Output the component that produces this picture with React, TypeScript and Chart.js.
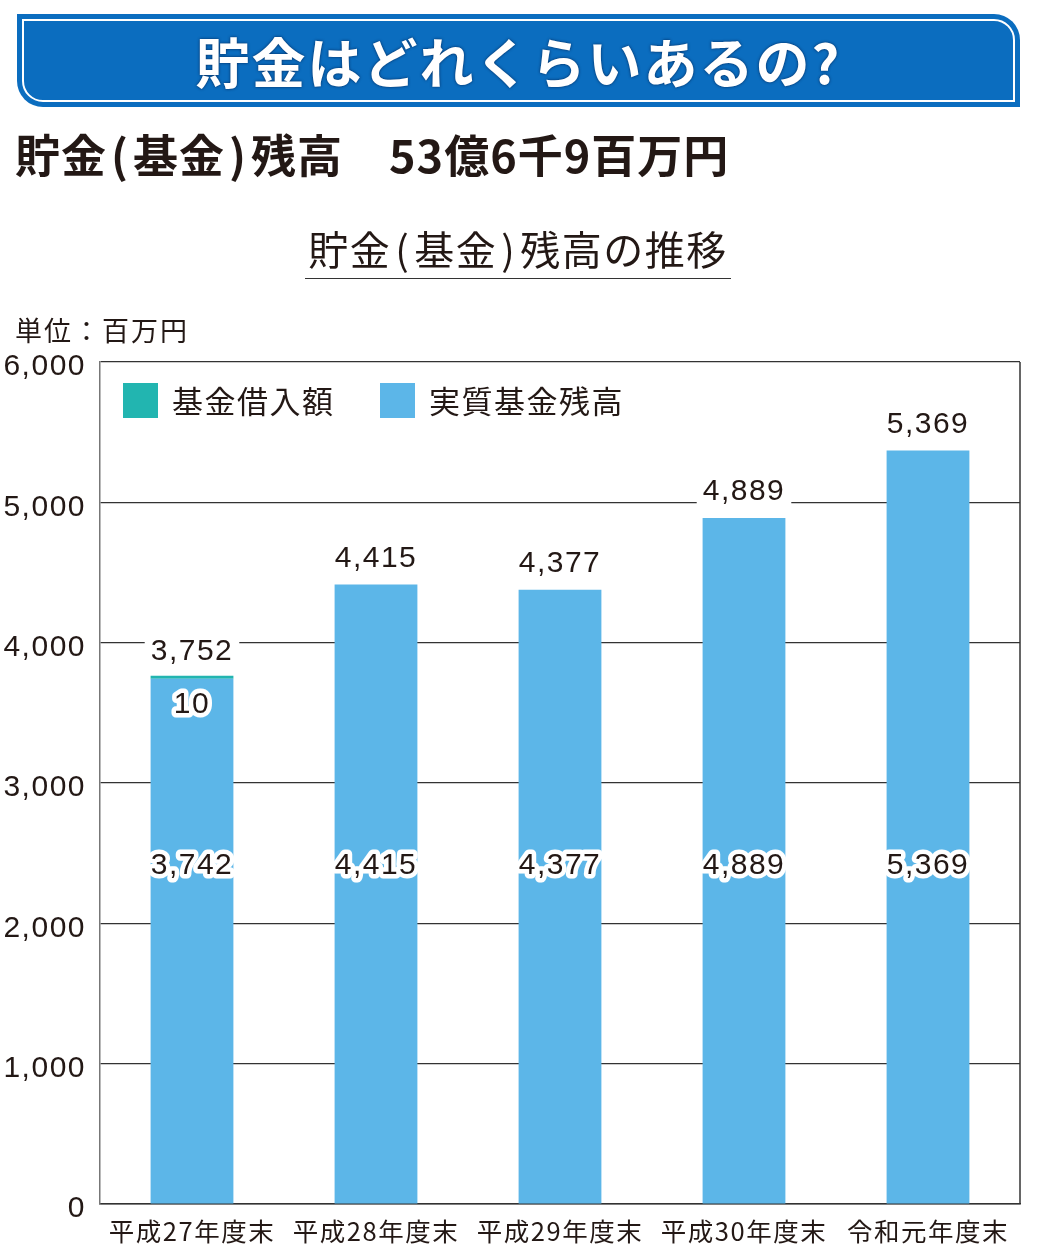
import React, { useEffect, useRef } from "react";
import { Chart, registerables } from "chart.js";

Chart.register(...registerables);

const categories = ["平成27年度末", "平成28年度末", "平成29年度末", "平成30年度末", "令和元年度末"];
const fundBalance = [3742, 4415, 4377, 4889, 5369];
const borrowing: (number | null)[] = [10, null, null, null, null];
const totals = [3752, 4415, 4377, 4889, 5369];
const seriesNames = ["実質基金残高", "基金借入額"];
const yMin = 0;
const yMax = 6000;
const yStep = 1000;

const TEXT = "#231815";
const BLUE = "#5cb6e8";
const TEAL = "#22b5b0";
const NUM_FONT = "'Liberation Sans', Arial, 'Noto Sans CJK JP', sans-serif";
const JP_FONT = "'Noto Sans CJK JP', 'Liberation Sans', sans-serif";

const fmt = (v: number) => v.toLocaleString("en-US");

const labelsPlugin = {
  id: "customLabels",
  beforeDraw(chart: any) {
    (chart.ctx as any).letterSpacing = "1.5px";
  },
  afterDatasetsDraw(chart: any) {
    const ctx = chart.ctx as CanvasRenderingContext2D;
    const area = chart.chartArea;
    const yScale = chart.scales.y;
    const baseMeta = chart.getDatasetMeta(0);
    const topMeta = chart.getDatasetMeta(1);
    ctx.save();
    (ctx as any).letterSpacing = "1.5px";
    ctx.textAlign = "center";
    ctx.textBaseline = "middle";
    ctx.font = `30px ${NUM_FONT}`;
    totals.forEach((t, i) => {
      const bar = baseMeta.data[i];
      const top = yScale.getPixelForValue(t);
      const txt = fmt(t);
      const w = ctx.measureText(txt).width;
      const cy = top - 26;
      ctx.fillStyle = "#ffffff";
      ctx.fillRect(bar.x - w / 2 - 6, cy - 15, w + 12, 30);
      ctx.fillStyle = TEXT;
      ctx.fillText(txt, bar.x, cy);
    });
    const innerY = area.top + (area.bottom - area.top) * 0.598;
    const outline = (txt: string, x: number, y: number) => {
      ctx.lineJoin = "round";
      ctx.lineWidth = 9;
      ctx.strokeStyle = "#ffffff";
      ctx.strokeText(txt, x, y);
      ctx.fillStyle = TEXT;
      ctx.fillText(txt, x, y);
    };
    fundBalance.forEach((v, i) => {
      const bar = baseMeta.data[i];
      outline(fmt(v), bar.x, innerY);
    });
    borrowing.forEach((v, i) => {
      if (v == null) return;
      const bar = topMeta.data[i];
      outline(fmt(v), bar.x, bar.y + 29);
    });
    ctx.restore();
  },
  afterDraw(chart: any) {
    const ctx = chart.ctx as CanvasRenderingContext2D;
    const area = chart.chartArea;
    ctx.save();
    ctx.strokeStyle = "#333333";
    ctx.lineWidth = 1.5;
    ctx.beginPath();
    ctx.moveTo(area.right, area.top);
    ctx.lineTo(area.right, area.bottom);
    ctx.stroke();
    const items = [
      { label: chart.data.datasets[1].label, color: chart.data.datasets[1].backgroundColor },
      { label: chart.data.datasets[0].label, color: chart.data.datasets[0].backgroundColor },
    ];
    (ctx as any).letterSpacing = "1.5px";
    ctx.font = `31px ${JP_FONT}`;
    ctx.textBaseline = "middle";
    ctx.textAlign = "left";
    let x = area.left + 23;
    const y = area.top + 21;
    items.forEach((it) => {
      ctx.fillStyle = it.color;
      ctx.fillRect(x, y, 35, 35);
      ctx.fillStyle = TEXT;
      ctx.fillText(it.label, x + 49, y + 18);
      x += 257;
    });
    ctx.restore();
  },
};

export default function App() {
  const ref = useRef<HTMLCanvasElement | null>(null);
  useEffect(() => {
    if (!ref.current) return;
    const chart = new Chart(ref.current, {
      type: "bar",
      data: {
        labels: categories,
        datasets: [
          {
            label: seriesNames[0],
            data: fundBalance,
            backgroundColor: BLUE,
            borderWidth: 0,
            barPercentage: 0.9,
            categoryPercentage: 0.5,
          },
          {
            label: seriesNames[1],
            data: borrowing,
            backgroundColor: TEAL,
            borderWidth: 0,
            barPercentage: 0.9,
            categoryPercentage: 0.5,
            minBarLength: 3,
          },
        ],
      },
      options: {
        responsive: false,
        animation: false,
        layout: { padding: { top: 362, right: 18, left: 0, bottom: 0 } },
        plugins: { legend: { display: false }, tooltip: { enabled: false } },
        scales: {
          x: {
            stacked: true,
            grid: { display: false, drawTicks: false },
            border: { display: true, color: "#333333", width: 1.5 },
            ticks: {
              color: TEXT,
              font: { family: JP_FONT, size: 25.5 },
              padding: 12,
              maxRotation: 0,
              autoSkip: false,
            },
            afterFit: (s: any) => {
              s.height = 50;
            },
          },
          y: {
            stacked: true,
            min: yMin,
            max: yMax,
            grid: { color: "#333333", lineWidth: 1.2, drawTicks: false },
            border: { display: true, color: "#777777", width: 1.5 },
            ticks: {
              stepSize: yStep,
              color: TEXT,
              font: { family: NUM_FONT, size: 30 },
              padding: 14,
              labelOffset: 5,
              callback: (v: any) => fmt(Number(v)),
            },
            afterFit: (s: any) => {
              s.width = 100;
            },
          },
        },
      },
      plugins: [labelsPlugin],
    });
    return () => chart.destroy();
  }, []);

  const paren = (c: string) => <span style={{ margin: "0 4px" }}>{c}</span>;

  return (
    <div
      style={{
        position: "absolute",
        left: 0,
        top: 0,
        width: 1038,
        height: 1254,
        background: "#ffffff",
        overflow: "hidden",
        color: TEXT,
        fontFamily: JP_FONT,
      }}
    >
      <canvas ref={ref} width={1038} height={1254} style={{ position: "absolute", left: 0, top: 0 }} />
      <div
        style={{
          position: "absolute",
          left: 17,
          top: 14,
          width: 1003,
          height: 93,
          background: "#0b6dbf",
          borderRadius: "0 26px 0 26px",
        }}
      >
        <div
          style={{
            position: "absolute",
            left: 5,
            top: 5,
            right: 5,
            bottom: 5,
            border: "2px solid #ffffff",
            borderRadius: "0 21px 0 21px",
          }}
        />
        <div
          style={{
            position: "absolute",
            left: 0,
            right: 0,
            top: 0,
            height: 93,
            lineHeight: "93px",
            textAlign: "center",
            color: "#ffffff",
            fontWeight: 700,
            fontSize: 54,
            letterSpacing: 2,
            textShadow: "0 0 3px rgba(0,20,60,0.8)",
            whiteSpace: "nowrap",
          }}
        >
          貯金はどれくらいあるの?
        </div>
      </div>
      <div
        style={{
          position: "absolute",
          left: 15,
          top: 128,
          fontSize: 45,
          lineHeight: "52px",
          fontWeight: 700,
          letterSpacing: 1,
          whiteSpace: "nowrap",
        }}
      >
        貯金{paren("(")}基金{paren(")")}残高　53億6千9百万円
      </div>
      <div
        style={{
          position: "absolute",
          left: 305,
          top: 224,
          width: 426,
          height: 54,
          borderBottom: "1.5px solid #333333",
          textAlign: "center",
          fontSize: 40,
          lineHeight: "48px",
          letterSpacing: 1.5,
          whiteSpace: "nowrap",
        }}
      >
        貯金{paren("(")}基金{paren(")")}残高の推移
      </div>
      <div
        style={{
          position: "absolute",
          left: 15,
          top: 315,
          fontSize: 27,
          lineHeight: "30px",
          letterSpacing: 2,
          whiteSpace: "nowrap",
        }}
      >
        単位：百万円
      </div>
    </div>
  );
}
